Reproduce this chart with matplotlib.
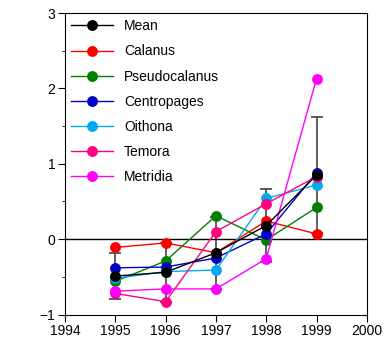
import matplotlib
matplotlib.use("Agg")
import matplotlib.pyplot as plt
from matplotlib.ticker import MultipleLocator

plt.rcParams['font.family'] = ['Liberation Sans', 'DejaVu Sans']

years = [1995, 1996, 1997, 1998, 1999]

mean = [-0.49, -0.44, -0.18, 0.18, 0.85]
mean_err = [0.30, 0.39, 0.48, 0.48, 0.77]

calanus = [-0.11, -0.05, -0.18, 0.24, 0.07]
pseudocalanus = [-0.56, -0.29, 0.31, -0.01, 0.42]
centropages = [-0.38, -0.37, -0.25, 0.07, 0.88]
oithona = [-0.52, -0.43, -0.41, 0.54, 0.72]
temora = [-0.72, -0.83, 0.10, 0.47, 0.83]
metridia = [-0.69, -0.66, -0.66, -0.26, 2.13]

species = [
    ("Calanus", calanus, "#ff0000"),
    ("Pseudocalanus", pseudocalanus, "#008000"),
    ("Centropages", centropages, "#0000cc"),
    ("Oithona", oithona, "#00aaee"),
    ("Temora", temora, "#ff0080"),
    ("Metridia", metridia, "#ff00ff"),
]

fig = plt.figure(figsize=(3.89, 3.43), dpi=100)
ax = fig.add_axes([0.167, 0.083, 0.776, 0.879])

# error bars of the mean, behind everything
ax.errorbar(years, mean, yerr=mean_err, fmt="none", ecolor="#444444",
            elinewidth=1.2, capsize=4, capthick=1.2, zorder=1)
ax.axhline(0, color="black", lw=1, zorder=1.5)

handles = []
mh, = ax.plot(years, mean, "-o", color="black", lw=1, ms=6.8, label="Mean", zorder=10)
handles.append(mh)
for i, (name, vals, col) in enumerate(species):
    h, = ax.plot(years, vals, "-o", color=col, lw=1, ms=6.8, label=name, zorder=3 + i)
    handles.append(h)

ax.set_xlim(1994, 2000)
ax.set_ylim(-1, 3)
ax.set_xticks(range(1994, 2001))
ax.set_yticks([-1, 0, 1, 2, 3])
ax.yaxis.set_minor_locator(MultipleLocator(0.5))
ax.tick_params(axis="both", which="major", direction="out", length=5,
               labelsize=10, pad=2)
ax.tick_params(axis="y", which="minor", direction="out", length=2.5)

ax.legend(handles=handles, loc="upper left", frameon=False, fontsize=10,
          handlelength=3.0, labelspacing=0.8, handletextpad=0.8,
          borderaxespad=0.2, borderpad=0.25)

plt.savefig("out.png", dpi=100)
plt.close()
